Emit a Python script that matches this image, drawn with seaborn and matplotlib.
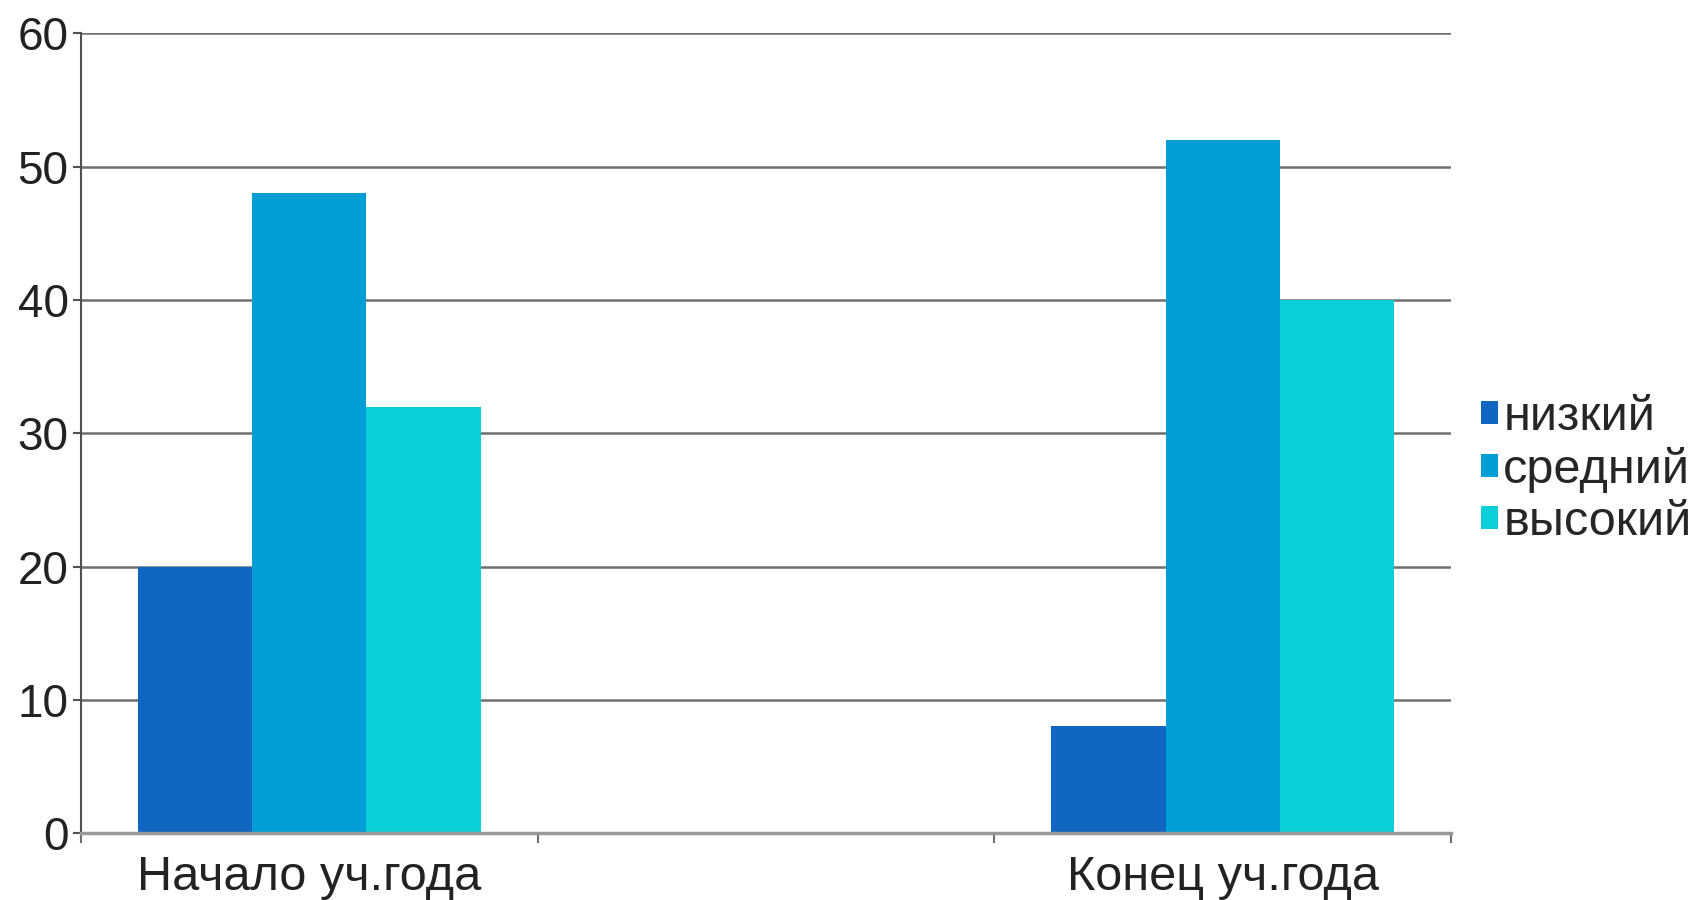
import numpy as np
import pandas as pd
import matplotlib
matplotlib.use("Agg")
import matplotlib.pyplot as plt
import seaborn as sns

# chart data
periods = ["Начало уч.года", "", "Конец уч.года"]
levels = ["низкий", "средний", "высокий"]
low = [20, np.nan, 8]
mid = [48, np.nan, 52]
high = [32, np.nan, 40]
level_colors = ["#1166C2", "#009ED6", "#0BCFD8"]
y_ticks = [0, 10, 20, 30, 40, 50, 60]

df = pd.DataFrame({
    "period": periods * 3,
    "level": np.repeat(levels, len(periods)),
    "value": low + mid + high,
}).dropna()

sns.set_theme(style="white")
plt.rcParams["font.family"] = ["Liberation Sans", "DejaVu Sans"]

fig = plt.figure(figsize=(16.92, 9), dpi=100)
ax = fig.add_axes([0.0479, 0.0744, 0.8097, 0.8884])

sns.barplot(data=df, x="period", y="value", hue="level", order=periods,
            hue_order=levels, palette=level_colors, width=0.75,
            errorbar=None, saturation=1, linewidth=0, ax=ax)

ax.set_ylim(0, 60)
ax.set_xlim(-0.5, len(periods) - 0.5)
ax.set_yticks(y_ticks)
ax.set_xlabel("")
ax.set_ylabel("")

ax.set_axisbelow(True)
ax.yaxis.grid(True, color="#707070", linewidth=1.8)
ax.xaxis.grid(False)

for side in ["top", "right"]:
    ax.spines[side].set_visible(False)
ax.spines["left"].set_color("#505050")
ax.spines["left"].set_linewidth(1.5)
ax.spines["bottom"].set_color("#999999")
ax.spines["bottom"].set_linewidth(2.5)
ax.spines["bottom"].set_zorder(5)

ax.tick_params(axis="y", which="major", left=True, length=6, width=1.5,
               color="#505050", pad=3, labelsize=33, labelcolor="#222222")
ax.tick_params(axis="x", which="major", bottom=False, pad=10,
               labelsize=35, labelcolor="#222222")
ax.set_xticks(np.arange(len(periods) + 1) - 0.5, minor=True)
ax.tick_params(axis="x", which="minor", bottom=True, length=7, width=1.5,
               color="#707070")

ax.legend(loc="center left", bbox_to_anchor=(0.8755, 0.478),
          bbox_transform=fig.transFigure, frameon=False, fontsize=35,
          handlelength=0.35, handleheight=0.35, handletextpad=0.1,
          labelspacing=0.15, borderpad=0, borderaxespad=0)

fig.savefig("out.png", dpi=100)
